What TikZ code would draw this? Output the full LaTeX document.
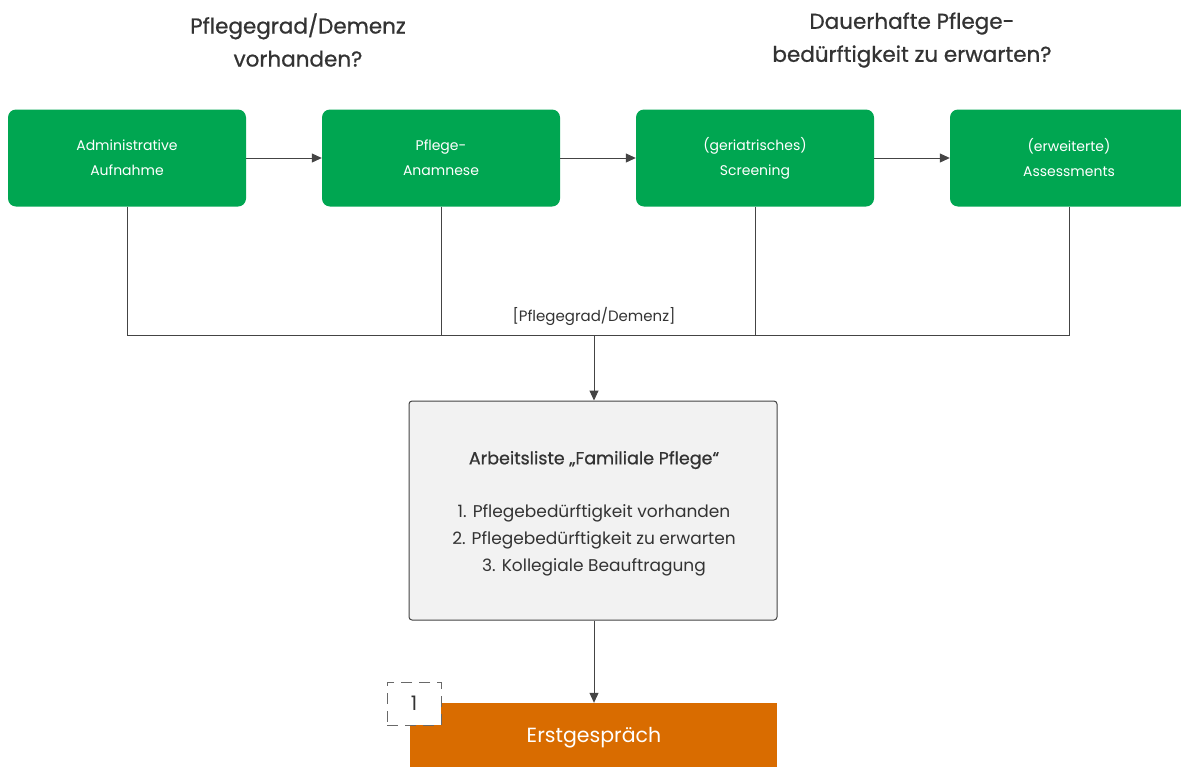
\documentclass[tikz,border=0pt]{standalone}
\usepackage{fontspec}
\setmainfont{Poppins}
\newfontfamily\medfont{Poppins}[FakeBold=0.8]
\usetikzlibrary{arrows.meta}
\definecolor{pgreen}{HTML}{00A651}
\definecolor{porange}{HTML}{D96C00}
\definecolor{pline}{HTML}{444444}
\definecolor{ptext}{HTML}{333333}
\definecolor{pgrayfill}{HTML}{F2F2F2}
\begin{document}
\begin{tikzpicture}[x=1pt,y=-1pt,
  greenbox/.style={fill=pgreen, rounded corners=8pt, minimum width=238pt, minimum height=97pt, inner sep=0pt, text=white, align=center, font=\fontsize{14}{25}\selectfont},
  conn/.style={draw=pline, line width=1pt},
  arr/.style={conn, -{Triangle[length=10pt,width=9pt]}},
  title/.style={text=ptext, align=center, font=\medfont\fontsize{21.5}{33}\selectfont}
]
\useasboundingbox (0,0) rectangle (1181,766);
\node[title] (t1) at (298,40) {Pflegegrad/Demenz\\vorhanden?};
\node[title] (t2) at (912,40) {Dauerhafte Pflege-\\bedürftigkeit zu erwarten?};

\node[greenbox] (b1) at (127,158) {Administrative\\Aufnahme};
\node[greenbox] (b2) at (441,158) {Pflege-\\Anamnese};
\node[greenbox] (b3) at (755,158) {(geriatrisches)\\Screening};
\node[greenbox] (b4) at (1069,158) {(erweiterte)\\Assessments};

\draw[arr] (b1) -- (b2);
\draw[arr] (b2) -- (b3);
\draw[arr] (b3) -- (b4);

\coordinate (m) at (594,335);
\coordinate (jl) at (127,335);
\coordinate (jr) at (1069,335);
\draw[conn] (b1.south) -- (jl) -- (jr) -- (b4.south);
\draw[conn] (b2.south) -- (b2.south |- m);
\draw[conn] (b3.south) -- (b3.south |- m);
\node[text=ptext, font=\fontsize{15}{18}\selectfont] (lbl) at (594,316) {[Pflegegrad/Demenz]};

\node[draw=pline, fill=pgrayfill, line width=1pt, rounded corners=3pt, minimum width=368pt, minimum height=219pt, inner sep=0pt] (list) at (593,510.5) {};
\node[text=ptext, font=\medfont\fontsize{17.5}{20}\selectfont] (lt) at (594,460) {Arbeitsliste „Familiale Pflege“};
\node[text=ptext, align=center, font=\fontsize{17}{27}\selectfont] (li) at (594,540) {1. Pflegebedürftigkeit vorhanden\\2. Pflegebedürftigkeit zu erwarten\\3. Kollegiale Beauftragung};
\draw[arr] (m) -- (list.north -| m);

\node[fill=porange, minimum width=367pt, minimum height=64pt, inner sep=0pt] (eg) at (593.5,735) {};
\node[text=white, font=\fontsize{20.5}{24}\selectfont] (egt) at (594,738) {Erstgespräch};
\draw[arr] (list.south -| m) -- (eg.north -| m);

\node[draw=pline!80, fill=white, dash pattern=on 11pt off 7pt, line width=1pt, minimum width=54pt, minimum height=43pt, inner sep=0pt, text=ptext, font=\fontsize{20}{22}\selectfont] (n1) at (414,703.5) {1};
\end{tikzpicture}
\end{document}
